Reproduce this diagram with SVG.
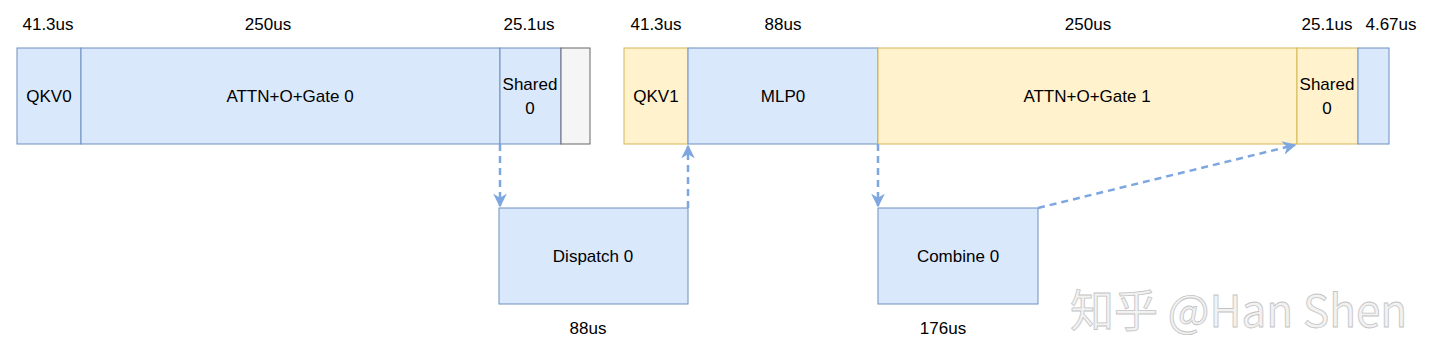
<svg xmlns="http://www.w3.org/2000/svg" width="1440" height="353" viewBox="0 0 1440 353">
<style>
text{font-family:"Liberation Sans",Arial,sans-serif;font-size:17px;fill:#000;text-anchor:middle;dominant-baseline:central}
.b{fill:#dae8fc;stroke:#6c8ebf;stroke-width:1}
.y{fill:#fff2cc;stroke:#d6b656;stroke-width:1}
.g{fill:#f5f5f5;stroke:#666666;stroke-width:1}
.c{fill:none;stroke:#7ea6e0;stroke-width:2.5;stroke-dasharray:7 5}
.wm{font-family:"Noto Sans CJK SC","Liberation Sans",sans-serif;font-size:44px;fill:#f2f2f2;stroke:#c4c4c4;stroke-width:0.8;text-anchor:start}
</style>
<defs>
<marker id="ah" viewBox="0 0 10 10" refX="9" refY="5" markerWidth="5.5" markerHeight="5.5" markerUnits="strokeWidth" orient="auto">
<path d="M0,0 L10,5 L0,10 L3,5 Z" fill="#7ea6e0"/>
</marker>
</defs>
<g id="labels">
<text x="48" y="24">41.3us</text>
<text x="268" y="24">250us</text>
<text x="529" y="24">25.1us</text>
<text x="656" y="24">41.3us</text>
<text x="783" y="24">88us</text>
<text x="1088" y="24">250us</text>
<text x="1327" y="24">25.1us</text>
<text x="1391" y="24">4.67us</text>
<text x="588" y="328">88us</text>
<text x="943" y="328">176us</text>
</g>
<g id="qkv0"><rect class="b" x="17" y="48" width="64" height="96"/><text x="49" y="96">QKV0</text></g>
<g id="attn0"><rect class="b" x="81" y="48" width="419" height="96"/><text x="290" y="96">ATTN+O+Gate 0</text></g>
<g id="shared0a"><rect class="b" x="500" y="48" width="61" height="96"/><text x="530" y="84">Shared</text><text x="530" y="108">0</text></g>
<g id="idle"><rect class="g" x="561" y="48" width="29" height="96"/></g>
<g id="qkv1"><rect class="y" x="624" y="48" width="64" height="96"/><text x="656" y="96">QKV1</text></g>
<g id="mlp0"><rect class="b" x="688" y="48" width="190" height="96"/><text x="783" y="96">MLP0</text></g>
<g id="attn1"><rect class="y" x="878" y="48" width="419" height="96"/><text x="1087" y="96">ATTN+O+Gate 1</text></g>
<g id="shared0b"><rect class="y" x="1297" y="48" width="61" height="96"/><text x="1327" y="84">Shared</text><text x="1327" y="108">0</text></g>
<g id="tail"><rect class="b" x="1358" y="48" width="31" height="96"/></g>
<g id="dispatch0"><rect class="b" x="499" y="208" width="189" height="96"/><text x="593" y="256">Dispatch 0</text></g>
<g id="combine0"><rect class="b" x="878" y="208" width="160" height="96"/><text x="958" y="256">Combine 0</text></g>
<g id="connectors">
<path class="c" d="M500,144 L500,206" marker-end="url(#ah)"/>
<path class="c" d="M688,208 L688,146" marker-end="url(#ah)"/>
<path class="c" d="M878,144 L878,206" marker-end="url(#ah)"/>
<path class="c" d="M1038,208 L1295,145" marker-end="url(#ah)"/>
</g>
<text class="wm" x="1070" y="308">知乎 @Han Shen</text>
</svg>
